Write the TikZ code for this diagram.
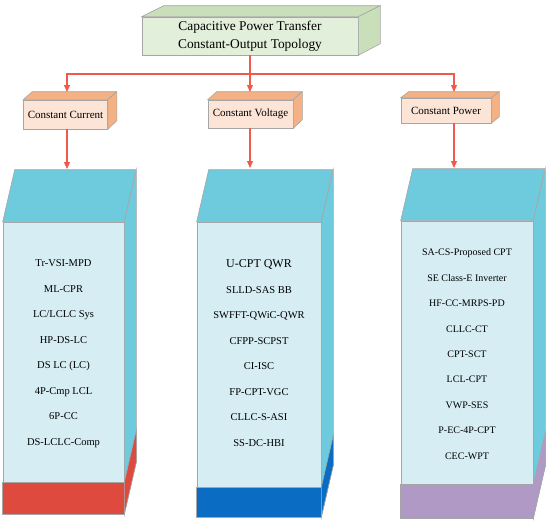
\documentclass[tikz,border=0pt]{standalone}
\usepackage{fontspec}
\setmainfont{Liberation Serif}
\definecolor{EdgeGray}{HTML}{A6A6A6}
\definecolor{ArrowRed}{HTML}{F05A4A}
\definecolor{GreenFront}{HTML}{E2EFDA}
\definecolor{GreenSide}{HTML}{C9DFB9}
\definecolor{OrangeFront}{HTML}{FCE4D6}
\definecolor{OrangeSide}{HTML}{F4B183}
\definecolor{CyanFront}{HTML}{D5EDF3}
\definecolor{CyanSide}{HTML}{6DCBDD}
\definecolor{RedBand}{HTML}{DE4B3E}
\definecolor{BlueBand}{HTML}{0A6CC2}
\definecolor{PurpleBand}{HTML}{B09AC5}
\usetikzlibrary{arrows.meta,positioning,calc}

\begin{document}
\begin{tikzpicture}[
  x=1pt, y=-1pt,
  face/.style={draw=EdgeGray, line width=0.6pt},
  front/.style={rectangle, face, inner sep=0pt, align=center},
  items/.style={inner sep=0pt, align=center},
  arrow/.style={-{Triangle[length=7pt,width=6pt]}, draw=ArrowRed, line width=1.2pt}
]
  \useasboundingbox (0,0) rectangle (550,523);

  % title block
  \node[front, fill=GreenFront, minimum width=216pt, minimum height=38pt, font=\fontsize{13.4}{18}\selectfont] (topo) at (250,36) {Capacitive Power Transfer\\Constant-Output Topology};
  \draw[face, fill=GreenSide] (topo.north west) -- ++(22,-11) -- ++(216,0) -- (topo.north east) -- cycle;
  \draw[face, fill=GreenSide] (topo.north east) -- ++(22,-11) -- ++(0,38) -- (topo.south east) -- cycle;

  % categories
  \node[front, fill=OrangeFront, minimum width=84pt, minimum height=29pt, font=\fontsize{11}{13}\selectfont] (cc) at (65.5,114.5) {Constant Current};
  \draw[face, fill=OrangeSide] (cc.north west) -- ++(9,-8) -- ++(84,0) -- (cc.north east) -- cycle;
  \draw[face, fill=OrangeSide] (cc.north east) -- ++(9,-8) -- ++(0,29) -- (cc.south east) -- cycle;

  \node[front, fill=OrangeFront, minimum width=85pt, minimum height=28pt, font=\fontsize{11}{13}\selectfont] (cv) at (250.5,114) {Constant Voltage};
  \draw[face, fill=OrangeSide] (cv.north west) -- ++(9,-8) -- ++(85,0) -- (cv.north east) -- cycle;
  \draw[face, fill=OrangeSide] (cv.north east) -- ++(9,-8) -- ++(0,28) -- (cv.south east) -- cycle;

  \node[front, fill=OrangeFront, minimum width=90pt, minimum height=25pt, font=\fontsize{11}{13}\selectfont] (cp) at (446,110.5) {Constant Power};
  \draw[face, fill=OrangeSide] (cp.north west) -- ++(8,-6) -- ++(90,0) -- (cp.north east) -- cycle;
  \draw[face, fill=OrangeSide] (cp.north east) -- ++(8,-6) -- ++(0,25) -- (cp.south east) -- cycle;

  % topology columns
  \node[front, fill=CyanFront, minimum width=121pt, minimum height=292pt] (ccbox) at (63.5,368) {};
  \draw[face, fill=CyanSide] (ccbox.north west) -- ++(12,-52) -- ++(121,0) -- (ccbox.north east) -- cycle;
  \draw[face, fill=CyanSide] (ccbox.north east) -- ++(12,-52) -- ++(0,292) -- (ccbox.south east) -- cycle;
  \draw[face, fill=RedBand] (ccbox.south west) rectangle ($(ccbox.south east)+(0,-32)$);
  \draw[face, fill=RedBand] (ccbox.south east) -- ++(0,-32) -- ++(12,-52) -- ++(0,32) -- cycle;

  \node[front, fill=CyanFront, minimum width=124pt, minimum height=295pt] (cvbox) at (259,369.5) {};
  \draw[face, fill=CyanSide] (cvbox.north west) -- ++(12,-52) -- ++(124,0) -- (cvbox.north east) -- cycle;
  \draw[face, fill=CyanSide] (cvbox.north east) -- ++(12,-52) -- ++(0,295) -- (cvbox.south east) -- cycle;
  \draw[face, fill=BlueBand] (cvbox.south west) rectangle ($(cvbox.south east)+(0,-30)$);
  \draw[face, fill=BlueBand] (cvbox.south east) -- ++(0,-30) -- ++(12,-52) -- ++(0,30) -- cycle;

  \node[front, fill=CyanFront, minimum width=132pt, minimum height=297pt] (cpbox) at (467,369.5) {};
  \draw[face, fill=CyanSide] (cpbox.north west) -- ++(12,-52) -- ++(132,0) -- (cpbox.north east) -- cycle;
  \draw[face, fill=CyanSide] (cpbox.north east) -- ++(12,-52) -- ++(0,297) -- (cpbox.south east) -- cycle;
  \draw[face, fill=PurpleBand] (cpbox.south west) rectangle ($(cpbox.south east)+(0,-34)$);
  \draw[face, fill=PurpleBand] (cpbox.south east) -- ++(0,-34) -- ++(12,-52) -- ++(0,34) -- cycle;

  \node[items, below=38pt of ccbox.north, font=\fontsize{10.5}{25.5}\selectfont] (ccitems) {Tr-VSI-MPD\\ML-CPR\\LC/LCLC Sys\\HP-DS-LC\\DS LC (LC)\\4P-Cmp LCL\\6P-CC\\DS-LCLC-Comp};
  \node[items, below=38pt of cvbox.north, font=\fontsize{10.5}{25.5}\selectfont] (cvitems) {{\fontsize{12}{25.5}\selectfont U-CPT QWR}\\SLLD-SAS BB\\SWFFT-QWiC-QWR\\CFPP-SCPST\\CI-ISC\\FP-CPT-VGC\\CLLC-S-ASI\\SS-DC-HBI};
  \node[items, below=28pt of cpbox.north, font=\fontsize{10}{25.4}\selectfont] (cpitems) {SA-CS-Proposed CPT\\SE Class-E Inverter\\HF-CC-MRPS-PD\\CLLC-CT\\CPT-SCT\\LCL-CPT\\VWP-SES\\P-EC-4P-CPT\\CEC-WPT};

  % connectors
  \coordinate (split) at (250,74);
  \coordinate (ccin) at (67,92);
  \coordinate (cvin) at (250,92);
  \coordinate (cpin) at (454,92);
  \coordinate (ccout) at (67,169);
  \coordinate (cvout) at (250,168);
  \coordinate (cpout) at (454,168);

  \draw[arrow] (topo.south) -- (cvin);
  \draw[arrow] (split) -| (ccin);
  \draw[arrow] (split) -| (cpin);
  \draw[arrow] (ccin |- cc.south) -- (ccout);
  \draw[arrow] (cvin |- cv.south) -- (cvout);
  \draw[arrow] (cpin |- cp.south) -- (cpout);
\end{tikzpicture}
\end{document}
